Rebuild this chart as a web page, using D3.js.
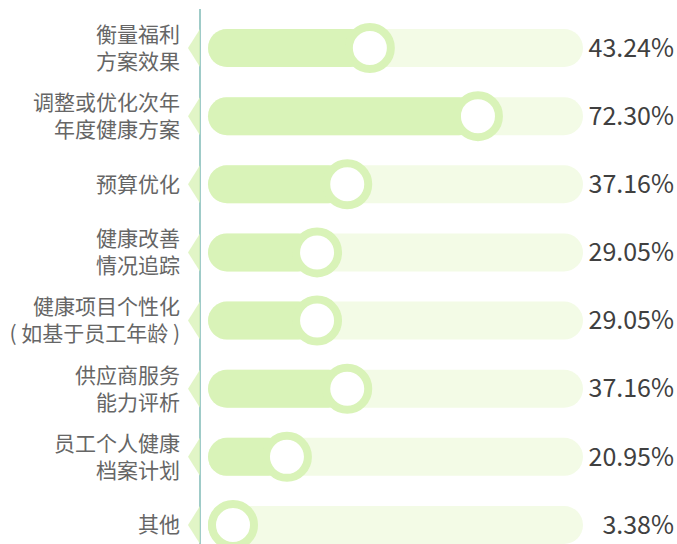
<!DOCTYPE html>
<html>
<head>
<meta charset="utf-8">
<script src="https://cdn.jsdelivr.net/npm/d3@7"></script>
<style>
  body { margin: 0; background: #fff; }
  text { font-family: "Noto Sans CJK SC", "Noto Sans", sans-serif; }
</style>
</head>
<body>
<svg id="body" width="677" height="544"></svg>
<script>
// 每项占比
let labels = [
  ["衡量福利", "方案效果"],
  ["调整或优化次年", "年度健康方案"],
  ["预算优化"],
  ["健康改善", "情况追踪"],
  ["健康项目个性化", "( 如基于员工年龄 )"],
  ["供应商服务", "能力评析"],
  ["员工个人健康", "档案计划"],
  ["其他"]
];
let values = [43.24, 72.30, 37.16, 29.05, 29.05, 37.16, 20.95, 3.38];

let svg = d3.select("#body");

let barH = 38;
let x = d3.scaleLinear().domain([0, 100]).range([209, 581]);
let y = d3.scalePoint()
          .domain(d3.range(values.length))
          .range([48, 525]);

let fg = "#d9f3b8";

// 背景条
svg.selectAll("rect.bg")
   .data(values)
   .enter()
   .append("rect")
   .attr("class", "bg")
   .attr("x", 208)
   .attr("y", (d, i) => y(i) - barH / 2)
   .attr("width", 583 - 208)
   .attr("height", barH)
   .attr("rx", barH / 2)
   .attr("fill", "#f3fbe6");

// 数值条
svg.selectAll("rect.fg")
   .data(values)
   .enter()
   .append("rect")
   .attr("class", "fg")
   .attr("x", 208)
   .attr("y", (d, i) => y(i) - barH / 2)
   .attr("width", d => Math.max(x(d) - 208, barH))
   .attr("height", barH)
   .attr("rx", barH / 2)
   .attr("fill", fg);

// 竖线
svg.append("line")
   .attr("x1", 200).attr("x2", 200)
   .attr("y1", 9).attr("y2", 544)
   .attr("stroke", "#7fbab6")
   .attr("stroke-width", 1.5);

// 左侧小三角
svg.selectAll("path.tri")
   .data(values)
   .enter()
   .append("path")
   .attr("class", "tri")
   .attr("d", (d, i) => {
     let c = y(i);
     return `M188,${c} L200,${c - barH / 2} L200,${c + barH / 2} Z`;
   })
   .attr("fill", fg)
   .attr("fill-opacity", 0.8);

// 圆点
svg.selectAll("circle")
   .data(values)
   .enter()
   .append("circle")
   .attr("cx", d => Math.max(x(d), 233))
   .attr("cy", (d, i) => y(i))
   .attr("r", 21)
   .attr("fill", "#fff")
   .attr("stroke", fg)
   .attr("stroke-width", 8);

// 分类标签
let lab = svg.selectAll("text.lab")
   .data(labels)
   .enter()
   .append("text")
   .attr("class", "lab")
   .attr("text-anchor", "end")
   .attr("fill", "#666")
   .style("font-size", "21px");

lab.selectAll("tspan")
   .data((d, i) => d.map((t, j) => ({ t: t, n: d.length, j: j, i: i })))
   .enter()
   .append("tspan")
   .attr("x", 180)
   .attr("y", d => y(d.i) + (d.j - (d.n - 1) / 2) * 27)
   .attr("dy", "0.35em")
   .text(d => d.t);

// 百分比
svg.selectAll("text.val")
   .data(values)
   .enter()
   .append("text")
   .attr("class", "val")
   .attr("x", 674)
   .attr("y", (d, i) => y(i))
   .attr("dy", "0.35em")
   .attr("text-anchor", "end")
   .attr("fill", "#404040")
   .style("font-size", "25px")
   .text(d => d.toFixed(2) + "%");
</script>
</body>
</html>
